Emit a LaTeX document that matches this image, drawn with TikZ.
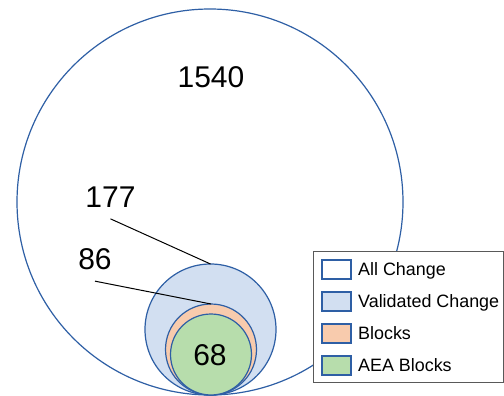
\documentclass[tikz,border=0pt]{standalone}
\usepackage{fontspec}
\setmainfont{Liberation Sans}
\definecolor{ringblue}{RGB}{46,95,165}
\definecolor{validfill}{RGB}{210,223,241}
\definecolor{blockfill}{RGB}{248,203,173}
\definecolor{aeafill}{RGB}{183,221,172}
\tikzset{
  ring/.style={circle,draw=ringblue,line width=1.2pt,inner sep=0pt,outer sep=0pt,minimum size=#1},
  count/.style={font=\fontsize{30}{36}\selectfont},
  swatch/.style={draw=ringblue,line width=1.2pt,minimum width=29pt,minimum height=19pt,inner sep=0pt},
  entry/.style={font=\fontsize{17.9}{21}\selectfont,anchor=base west,inner sep=0pt},
  legendbox/.style={draw=black!65,line width=0.9pt,fill=white,minimum width=190pt,minimum height=131pt}
}

\begin{document}
\begin{tikzpicture}[x=1pt,y=-1pt]
      \useasboundingbox (0,0) rectangle (504,396);
      % nested sets, all touching at the bottom
      \node[ring=386pt,fill=white] (all) at (210,202) {};
      \node[ring=131pt,fill=validfill] (valid) at (210.5,329.5) {};
      \node[ring=91pt,fill=blockfill] (blocks) at (211,349.5) {};
      \node[ring=81pt,fill=aeafill] (aea) at (211,354.5) {};
      \node[count] (n1540) at (211,77) {1540};
      \node[count] (n177) at (110.5,197) {177};
      \node[count] (n86) at (95,259) {86};
      \node[count] (n68) at (210,355) {68};
      \draw[line width=1pt] ([yshift=-8pt]n177.south) -- (valid.north);
      \draw[line width=1pt] ([yshift=-8pt]n86.south) -- (blocks.north);
      % legend
      \node[legendbox] (legend) at (408,316.5) {};
      \foreach \i/\c/\t in {0/white/All Change,1/validfill/Validated Change,2/blockfill/Blocks,3/aeafill/AEA Blocks}{
        \node[swatch,fill=\c] (sw\i) at (336.5,269.5+32*\i) {};
        \node[entry] (lab\i) at (358,275.8+32*\i) {\t};
      }
\end{tikzpicture}
\end{document}
